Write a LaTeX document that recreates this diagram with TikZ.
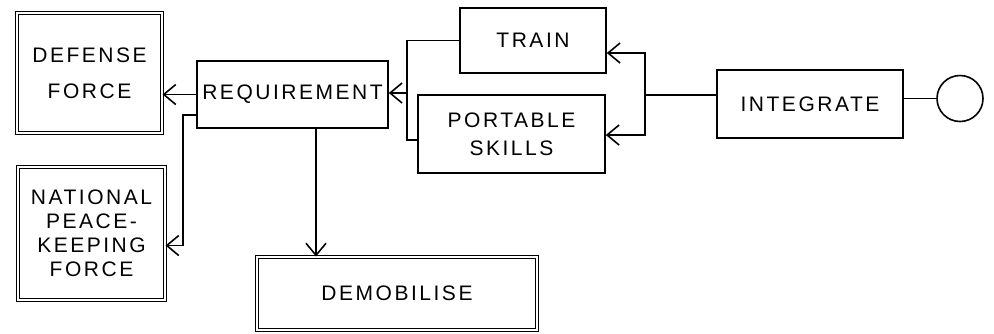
\documentclass[tikz,border=0pt]{standalone}
\usepackage{fontspec}
\newfontfamily\sketchfont{Liberation Sans}[LetterSpace=12]
\usepackage{tikz}
\usetikzlibrary{arrows.meta}

\begin{document}
\begin{tikzpicture}[x=0.5pt, y=-0.5pt, line width=0.8pt,
    box/.style={draw, rectangle, inner sep=0pt, align=center,
        font=\sketchfont\fontsize{10.5}{14}\selectfont},
    dbox/.style={box, double, double distance=1.2pt, line width=0.5pt},
    arr/.style={-{Straight Barb[length=6pt, width=10pt]}}]
        \useasboundingbox (0,0) rectangle (994,333);

        % Output boxes (double border)
            \node[dbox, minimum width=72.5pt, minimum height=60pt] (def) at (89.5, 73) {DEFENSE\\[4pt]FORCE};
            \node[dbox, minimum width=73.5pt, minimum height=66.5pt] (npk) at (91.5, 233.5) {NATIONAL\\[-2pt]PEACE-\\[-2pt]KEEPING\\[-2pt]FORCE};
            \node[dbox, minimum width=140pt, minimum height=36.5pt] (demob) at (397, 293.5) {DEMOBILISE};

            % Requirement box
            \node[box, minimum width=95.5pt, minimum height=33.5pt] (req) at (292.5, 94.5) {REQUIREMENT};

            % Training boxes
            \node[box, minimum width=73pt, minimum height=32.5pt] (train) at (533, 40.5) {TRAIN};
            \node[box, minimum width=93.5pt, minimum height=39pt] (skills) at (511.5, 134) {PORTABLE\\SKILLS};

            % Integrate and end circle
            \node[box, minimum width=93pt, minimum height=34pt] (integ) at (810, 104) {INTEGRATE};
            \node[circle, draw, minimum size=23pt, inner sep=0pt] (circ) at (960, 98.5) {};

            % Junctions
            \coordinate (nj) at (183, 115);
            \coordinate (lb) at (407, 93);
            \coordinate (rb) at (645, 95);

            % Connections: requirement to outputs
            \draw[arr] (req.west) -- (req.west -| def.east);
            \draw[arr] (req.west |- nj) -- (nj) |- ([yshift=-6pt]npk.east);
            \draw[arr] ([xshift=11.75pt]req.south) -- ([xshift=11.75pt]req.south |- demob.north);

            % Connections: training to requirement
            \draw (train.west) -| (lb) |- ([yshift=-3pt]skills.west);
            \draw[arr] (lb) -- (lb -| req.east);

            % Connections: integrate to training
            \draw[arr] (rb) |- ([yshift=-6.25pt]train.east);
            \draw[arr] (rb) |- ([yshift=-0.5pt]skills.east);
            \draw (rb) -- (rb -| integ.west);
            \draw (circ.west -| integ.east) -- (circ.west);
    \end{tikzpicture}
\end{document}
